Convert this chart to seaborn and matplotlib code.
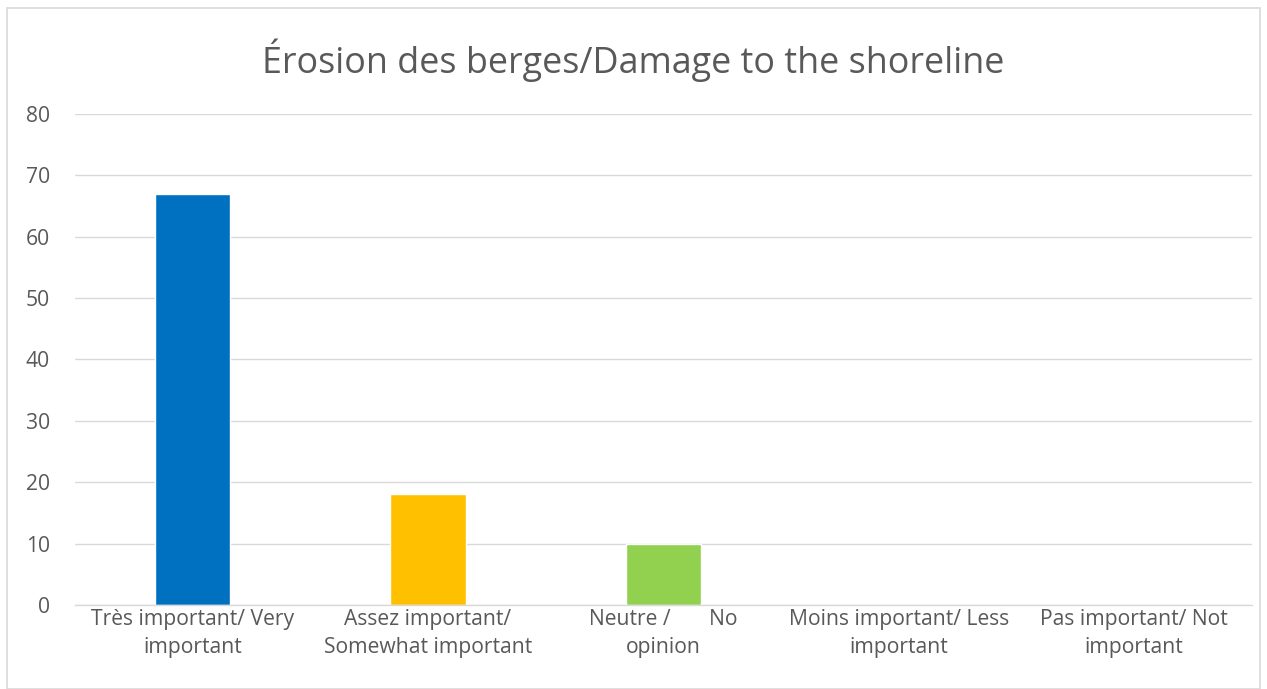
import matplotlib
matplotlib.use("Agg")
import matplotlib.pyplot as plt
import seaborn as sns
import pandas as pd
from matplotlib.patches import Rectangle

categories = [
    "Très important/ Very\nimportant",
    "Assez important/\nSomewhat important",
    "Neutre /       No\nopinion",
    "Moins important/ Less\nimportant",
    "Pas important/ Not\nimportant",
]
values = [67, 18, 10, 0, 0]
colors = ["#0070C0", "#FFC000", "#92D050", "#5B9BD5", "#A5A5A5"]
title = "Érosion des berges/Damage to the shoreline"

sns.set_theme(style="white")
plt.rcParams["font.family"] = ["Open Sans", "DejaVu Sans"]

df = pd.DataFrame({"cat": categories, "val": values})

fig = plt.figure(figsize=(12.67, 6.89), dpi=100)
ax = fig.add_axes([0.0592, 0.122, 0.9288, 0.7125])

sns.barplot(data=df, x="cat", y="val", hue="cat", palette=colors,
            width=0.32, legend=False, ax=ax, saturation=1)

ax.set_ylim(0, 80)
ax.set_yticks(range(0, 81, 10))
ax.grid(axis="y", color="#D9D9D9", linewidth=1)
ax.set_axisbelow(True)
for s in ["top", "right", "left"]:
    ax.spines[s].set_visible(False)
ax.spines["bottom"].set_color("#D9D9D9")
ax.spines["bottom"].set_linewidth(1)
ax.set_xlabel("")
ax.set_ylabel("")
ax.tick_params(axis="both", length=0, colors="#595959", labelsize=15.2)
ax.tick_params(axis="y", pad=18)
ax.tick_params(axis="x", pad=3)
for lbl in ax.get_xticklabels():
    lbl.set_linespacing(1.4)

fig.text(0.5, 0.913, title, ha="center", va="center", fontsize=25.8, color="#595959")
fig.patches.append(Rectangle((0.0055, 0.0), 0.989, 0.988, transform=fig.transFigure,
                             fill=False, edgecolor="#D9D9D9", linewidth=1.2))

fig.savefig("out.png", dpi=100)
